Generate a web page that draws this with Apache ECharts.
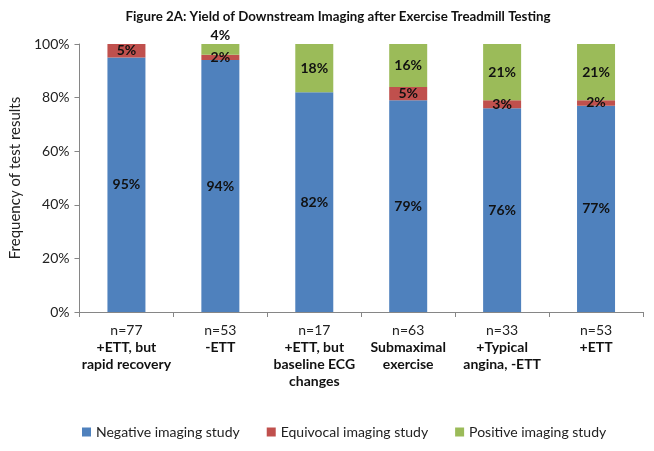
<!DOCTYPE html>
<html><head><meta charset="utf-8">
<script src="https://cdn.jsdelivr.net/npm/echarts@6/dist/echarts.min.js"></script>
<style>html,body{margin:0;padding:0;background:#fff}#c{width:654px;height:451px}</style>
</head><body><div id="c"></div>
<script>
const nLabels = ['n=77','n=53','n=17','n=63','n=33','n=53'];
const categories = ['+ETT, but\nrapid recovery','-ETT','+ETT, but\nbaseline ECG\nchanges','Submaximal\nexercise','+Typical\nangina, -ETT','+ETT'];
const negative = [95, 94, 82, 79, 76, 77];
const equivocal = [5, 2, 0, 5, 3, 2];
const positive = [0, 4, 18, 16, 21, 21];
const yTicks = [0, 20, 40, 60, 80, 100];
const seriesNames = ['Negative imaging study','Equivocal imaging study','Positive imaging study'];

const FONT = 'Lato';
const chart = echarts.init(document.getElementById('c'));
const lbl = {show:true, position:'inside', color:'#111', fontWeight:'bold', fontSize:14, fontFamily:FONT,
  formatter: p => p.value > 0 ? p.value + '%' : ''};
function mk(name, arr, color){
  return {name, type:'bar', stack:'s', barWidth:38, data: arr.map((v,i)=>{
      const d = {value:v};
      if (name===seriesNames[2] && i===1) d.label = {position:'top', distance:2};
      return d;
    }),
    itemStyle:{color}, label:lbl, emphasis:{disabled:true}};
}
chart.setOption({
  animation:false,
  textStyle:{fontFamily:FONT},
  title:{text:'Figure 2A: Yield of Downstream Imaging after Exercise Treadmill Testing', left:333, textAlign:'center', top:5,
    textStyle:{fontSize:13.3, fontWeight:'bold', color:'#111', fontFamily:FONT}},
  grid:{left:72, right:11, top:44, bottom:139},
  legend:{bottom:7, left:77, itemWidth:9, itemHeight:9, itemGap:27, icon:'rect',
    textStyle:{fontSize:14, color:'#222', fontFamily:FONT}, data:seriesNames},
  xAxis:{type:'category', data:categories.map((c,i)=>nLabels[i]+'\n'+c),
    axisLine:{lineStyle:{color:'#868686'}}, axisTick:{show:true, length:5, lineStyle:{color:'#868686'}},
    axisLabel:{interval:0, margin:10, color:'#111', fontFamily:FONT,
      formatter: v => { const parts=v.split('\n'); return '{n|'+parts[0]+'}\n'+parts.slice(1).map(s=>'{b|'+s+'}').join('\n'); },
      rich:{n:{fontSize:14, color:'#222', lineHeight:17, fontFamily:FONT}, b:{fontSize:14, fontWeight:'bold', color:'#111', lineHeight:17, fontFamily:FONT}}}},
  yAxis:{type:'value', min:yTicks[0], max:yTicks[yTicks.length-1], interval:20,
    name:'Frequency of test results', nameLocation:'middle', nameGap:48, nameTextStyle:{fontSize:15, color:'#222', fontFamily:FONT},
    axisLine:{show:true, lineStyle:{color:'#868686'}}, axisTick:{show:true, length:5, lineStyle:{color:'#868686'}},
    splitLine:{show:false},
    axisLabel:{formatter:'{value}%', fontSize:14, color:'#222', margin:10, fontFamily:FONT}},
  series:[mk(seriesNames[0], negative, '#4F81BD'), mk(seriesNames[1], equivocal, '#C0504D'), mk(seriesNames[2], positive, '#9BBB59')]
});
</script></body></html>
